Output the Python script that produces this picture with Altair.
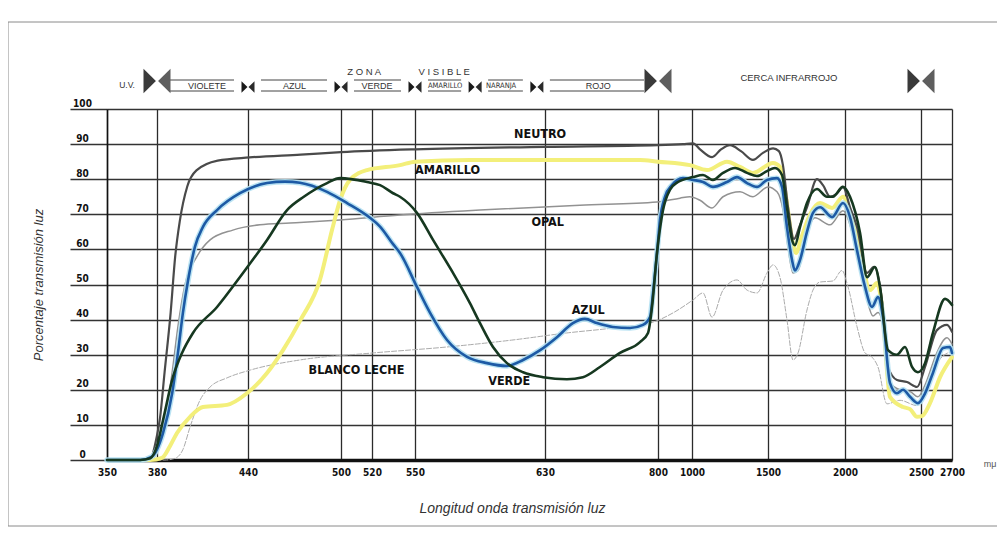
import altair as alt
import pandas as pd

# ---------------- axis ticks ----------------
TICKS = [350, 380, 440, 500, 520, 550, 630, 800, 1000, 1500, 2000, 2500, 2700]
Y_TICKS = [0, 10, 20, 30, 40, 50, 60, 70, 80, 90, 100]

# ---------------- series (wavelength nm, % transmission) ----------------
NEUTRO_NM = [350, 370, 376, 380, 382, 385, 389, 392, 395, 400, 406, 420, 441, 474, 500, 550, 630, 800, 947, 1007,
             1053, 1132, 1191, 1250, 1322, 1401, 1467, 1533, 1571, 1597, 1630, 1669, 1708, 1753, 1818, 1857, 1903,
             1948, 1987, 2033, 2079, 2145, 2191, 2243, 2283, 2342, 2408, 2474, 2526, 2603, 2668, 2700]
NEUTRO_VAL = [0, 0, 0.5, 7, 12, 25, 42, 58, 68, 78, 82.5, 85.3, 86.2, 87, 87.7, 88.5, 89.2, 89.7, 90, 90.2,
              88.5, 86.3, 88.5, 89.7, 88, 85.5, 87.5, 88.8, 88, 84, 72, 63, 67, 72, 80, 78.3, 75,
              76, 77.8, 72, 66.4, 53.3, 55, 45.6, 26.5, 22.8, 22.2, 20.8, 26.5, 37, 38.5, 36.5]

VERDE_NM = [350, 370, 376, 380, 384, 390.5, 396.5, 403.7, 419.6, 436.7, 452.3, 465.2, 476, 491, 499.4, 516.8, 525.6,
            534.7, 539.5, 551.2, 561.1, 573.4, 583.8, 590, 598, 606.6, 616.5, 628.8, 663, 687, 712.7, 742.8, 772.9,
            785, 791, 798.5, 829.4, 870.6, 917.6, 1006.6, 1072.4, 1138, 1204, 1283, 1362, 1427.6, 1493.4, 1545.5,
            1591, 1623, 1656, 1675, 1708, 1753, 1818, 1883, 1922, 1987, 2033, 2099, 2145, 2197, 2230, 2283, 2342,
            2395, 2441, 2480, 2526, 2577, 2655, 2700]
VERDE_VAL = [0, 0, 0.5, 4, 11.4, 23.6, 30.5, 36.2, 43.6, 53.3, 62.7, 71.2, 75, 78.9, 80.3, 79.2, 78.3,
             76, 75, 70.4, 62.7, 53.3, 44.7, 39, 32.2, 27.6, 25, 23.6, 23, 23.6, 26.5, 30.5, 33.6,
             36.2, 43.6, 59, 71.2, 77, 79.2, 80.6, 81.2, 79.8, 81.8, 83.2, 81.8, 80.9, 82.3, 83.2,
             81.2, 72, 62.7, 61.2, 66.4, 73.2, 77.2, 75, 75, 77.8, 75, 64.7, 52.1, 55, 49.3, 31.3, 30,
             32.2, 26.5, 25, 27.6, 36.2, 45.9, 44.2]

AZUL_NM = [350, 370, 377, 380, 384, 390, 393.8, 397.1, 400.4, 405, 410.3, 419.6, 434.7, 452.3, 463.9, 473.5, 491,
           503.9, 518.7, 525.6, 534.7, 539.5, 551.2, 559.2, 569.7, 582, 594.3, 606.6, 616.5, 627, 648, 672, 690,
           708, 732, 757.9, 777.4, 788, 792.5, 798.5, 811.8, 841, 882, 947, 1006.6, 1072.4, 1138, 1230, 1296,
           1362, 1427.6, 1493.4, 1558.4, 1591, 1623, 1656, 1675, 1708, 1753, 1792, 1838, 1916, 1987, 2033, 2079,
           2132, 2178, 2217, 2250, 2296, 2342, 2382, 2428, 2480, 2526, 2577, 2642, 2687, 2700]
AZUL_VAL = [0, 0, 1, 3, 7.7, 19, 30.5, 42, 51, 60.7, 66.4, 71.2, 76, 78.9, 79.3, 79, 76.4,
            73.2, 69, 66.5, 61.5, 59, 49.3, 42, 34.2, 29.4, 27.6, 26.8, 28.5, 31.3, 35, 39, 40.2,
            39, 37.9, 37.6, 38.5, 40.7, 47.6, 59, 68.4, 75, 78.3, 80.3, 79.8, 79.2, 77.8, 79.2, 80.6,
            78.9, 77.8, 79.8, 80.3, 77.8, 66.4, 57, 54, 57, 65, 70.4, 72, 69.2, 73.2, 69.2, 59.8,
            49.3, 43.6, 46.4, 40.7, 21.9, 19, 20, 18, 16.2, 19, 24.8, 31.9, 32.2, 30.5]

AMARILLO_NM = [350, 376, 383.3, 388.6, 393.2, 401.8, 410.3, 426.2, 439.3, 452.3, 462.6, 474, 486.4, 494.2, 499.4,
               505.8, 516.8, 539.5, 550, 583.8, 630, 772.9, 800, 988, 1098.7, 1230, 1316, 1401, 1532.5, 1578,
               1617, 1656, 1682, 1714, 1773, 1838, 1916, 1987, 2033, 2099, 2164.5, 2210.5, 2243, 2296, 2382,
               2428, 2474, 2506, 2558, 2623, 2700]
AMARILLO_VAL = [0, 0, 0.6, 4, 7.7, 12.3, 15.1, 15.7, 19, 24.8, 31.3, 40, 51.3, 65.5, 74,
                79.8, 82.6, 84, 85, 85.5, 85.5, 85.5, 85, 84, 82.6, 85, 83.5, 81.8, 84.6, 83.5,
                75, 63, 59, 63, 70, 73.2, 71.8, 75, 70, 60, 48.4, 50.4, 44, 18, 15.1,
                14.5, 12.3, 12.5, 16.2, 23.6, 29.3]

OPAL_NM = [350, 376, 380.7, 385.3, 390, 393.8, 398.5, 406.4, 415, 430, 447.7, 467.1, 499.4, 539.5, 590, 682.6,
           798.5, 929, 987, 1052.6, 1131.6, 1204, 1316, 1401, 1500, 1558.4, 1597.4, 1630, 1662.5, 1695, 1753,
           1805, 1902.6, 1987, 2033, 2084, 2138, 2184, 2217, 2256, 2296, 2362, 2428, 2480, 2532, 2597, 2668, 2700]
OPAL_VAL = [0, 0, 3, 12, 25, 38, 50, 58, 62.7, 65.5, 67, 67.5, 68.4, 69.8, 71.2, 72.6,
            73.5, 74.6, 75, 74, 71.8, 75, 76.4, 75, 77.8, 76.4, 71.2, 60.7, 53.3, 54, 64.7,
            69, 67, 71, 67, 57, 47, 41, 42, 37, 22, 20, 19.5, 18, 22, 30, 34.8, 33]

LECHE_NM = [350, 385.3, 392, 397.1, 401.8, 408.3, 415, 426.2, 441.3, 473.5, 520.7, 569.7, 610.3, 663, 732, 792.5,
            888, 1006.6, 1072.4, 1131.6, 1204, 1296, 1362, 1427.6, 1493.4, 1532.5, 1578, 1623, 1662.5, 1695, 1753,
            1792, 1838, 1922, 1980, 2020, 2079, 2132, 2178, 2217, 2276, 2362, 2474, 2532, 2610, 2700]
LECHE_VAL = [0, 0, 0.5, 3, 9.4, 17, 20.8, 23.4, 25.6, 28.5, 30.5, 32.2, 34.2, 36.2, 37.6, 39.3,
             41.9, 45.6, 47.6, 40.7, 48.4, 51.3, 48.4, 47.6, 53.3, 55.6, 52, 40, 28.5, 30.5, 42.7,
             48.4, 50.7, 51, 54, 49.3, 38, 30.5, 29.3, 26.5, 16, 17, 15.5, 20, 28, 31]

# curve labels
LABEL_TEXT = ["NEUTRO", "AMARILLO", "OPAL", "AZUL", "BLANCO LECHE", "VERDE"]
LABEL_NM = [627, 570, 634, 695, 510, 608]
LABEL_VAL = [92.9, 82.6, 67.8, 42.7, 25.6, 22.5]

# spectrum header
DIVIDER_NM = [380, 440, 500, 550, 587, 625, 800, 2500]
DIVIDER_BIG = [True, False, False, False, False, False, True, True]
BAND_NAME = ["U.V.", "VIOLETE", "AZUL", "VERDE", "AMARILLO", "NARANJA", "ROJO", "CERCA INFRARROJO"]
BAND_LABEL_NM = [362, 413, 470, 523.5, 568.5, 603, 710, 1636]
BAND_START = [350, 380, 440, 500, 550, 587, 625, 800]
BAND_END = [380, 440, 500, 550, 587, 625, 800, 2500]
BAND_BOXED = [False, True, True, True, True, True, True, False]
ZONA_TEXT = ["Z  O  N  A", "V  I  S  I  B  L  E"]
ZONA_NM = [515, 568]

# ---------------- layout / style ----------------
W, H = 845, 351
X_RANGE = [0, 50, 141, 234, 265, 308, 438, 551, 585, 661, 738, 814, 845]
NARROW = "Liberation Sans Narrow, DejaVu Sans Condensed, Liberation Sans, sans-serif"
SANS = "Liberation Sans, Arial, sans-serif"

xscale = alt.Scale(type="linear", domain=TICKS, range=X_RANGE, zero=False, nice=False)
yscale = alt.Scale(domain=[0, 100], zero=False, nice=False)

xaxis = alt.Axis(values=TICKS, format="d", grid=True, gridColor="#2b2b2b", gridWidth=1.3,
                 ticks=False, domain=True, domainColor="#111111", domainWidth=3.5,
                 labelFont=NARROW, labelFontSize=10, labelFontWeight="bold", labelColor="#111111",
                 labelPadding=7, labelFlush=False, labelOverlap=False,
                 title="Longitud onda transmisión luz", titleFont=SANS, titleFontSize=14,
                 titleFontStyle="italic", titleFontWeight="normal", titleColor="#333333",
                 titleX=405, titleY=48, titleAlign="center", titleBaseline="middle")
yaxis = alt.Axis(values=Y_TICKS, grid=True, gridColor="#333333", gridWidth=1.3,
                 ticks=True, tickSize=37, tickColor="#333333", tickWidth=1.3,
                 domain=True, domainColor="#111111", domainWidth=1.5,
                 labelFont=NARROW, labelFontSize=10, labelFontWeight="bold", labelColor="#111111",
                 labelAlign="center", labelBaseline="bottom", labelPadding=-12, labelOffset=-1,
                 labelFlush=False,
                 title="Porcentaje transmisión luz", titleFont=SANS, titleFontSize=13,
                 titleFontStyle="italic", titleFontWeight="normal", titleColor="#333333",
                 titleX=-69, titleY=H / 2, titleAngle=270, titleAlign="center", titleBaseline="middle")


def X(field="wl"):
    return alt.X(f"{field}:Q", scale=xscale, axis=xaxis)


def Y(field="val"):
    return alt.Y(f"{field}:Q", scale=yscale, axis=yaxis)


def line(nm, val, color, width, dash=None, opacity=1.0):
    df = pd.DataFrame({"wl": nm, "val": val})
    kw = dict(color=color, strokeWidth=width, interpolate="monotone", opacity=opacity,
              strokeCap="round", strokeJoin="round")
    if dash:
        kw["strokeDash"] = dash
    return alt.Chart(df).mark_line(**kw).encode(x=X(), y=Y())


layers = []

# outer frame of the figure
frame = alt.Chart(pd.DataFrame({"a": [0]})).mark_rect(filled=False, stroke="#8a8a8a", strokeWidth=1).encode(
    x=alt.value(-99), x2=alt.value(893), y=alt.value(-87), y2=alt.value(417))
layers.append(frame)

# curves
layers.append(line(LECHE_NM, LECHE_VAL, "#ababab", 1.0, dash=[5, 2]))
layers.append(line(OPAL_NM, OPAL_VAL, "#929292", 1.5))
layers.append(line(AMARILLO_NM, AMARILLO_VAL, "#f3ef7a", 4))
layers.append(line(NEUTRO_NM, NEUTRO_VAL, "#4a4a4a", 2.2))
layers.append(line(AZUL_NM, AZUL_VAL, "#b2e0f2", 5.5, opacity=0.9))
layers.append(line(AZUL_NM, AZUL_VAL, "#1d5aa5", 2.6))
layers.append(line(VERDE_NM, VERDE_VAL, "#163820", 2.6))

# curve labels
lab_df = pd.DataFrame({"wl": LABEL_NM, "val": LABEL_VAL, "t": LABEL_TEXT})
layers.append(alt.Chart(lab_df).mark_text(font=NARROW, fontSize=12.5, fontWeight="bold", color="#111111",
                                          align="center", baseline="middle").encode(x=X(), y=Y(), text="t:N"))

# unit
unit_df = pd.DataFrame({"wl": [TICKS[-1]], "val": [0], "t": ["mμ"]})
layers.append(alt.Chart(unit_df).mark_text(font=SANS, fontSize=9, color="#555555", dx=38, dy=4,
                                           align="center", baseline="middle").encode(x=X(), y=Y(), text="t:N"))

# header: band boxes (lines above/below)
band_df = pd.DataFrame({"start": BAND_START, "end": BAND_END, "boxed": BAND_BOXED})
boxed_df = band_df[band_df["boxed"]]
for yy in (-29, -18):
    layers.append(alt.Chart(boxed_df).mark_rule(color="#444444", strokeWidth=1, xOffset=13, x2Offset=-14).encode(
        x=X("start"), x2="end:Q", y=alt.value(yy)))

# header: band names
name_df = pd.DataFrame({"wl": BAND_LABEL_NM, "t": BAND_NAME, "boxed": BAND_BOXED})
small_names = name_df[name_df["t"].isin(["AMARILLO", "NARANJA"])]
norm_names = name_df[name_df["boxed"] & ~name_df["t"].isin(["AMARILLO", "NARANJA"])]
layers.append(alt.Chart(norm_names).mark_text(font=SANS, fontSize=9, color="#333333", align="center",
                                              baseline="middle").encode(x=X(), y=alt.value(-23), text="t:N"))
layers.append(alt.Chart(small_names).mark_text(font=NARROW, fontSize=7.5, color="#333333", align="center",
                                               baseline="middle").encode(x=X(), y=alt.value(-23), text="t:N"))
uv = name_df[name_df["t"] == "U.V."]
layers.append(alt.Chart(uv).mark_text(font=SANS, fontSize=8.5, color="#333333", align="center",
                                      baseline="middle").encode(x=X(), y=alt.value(-24), text="t:N"))
ir = name_df[name_df["t"] == "CERCA INFRARROJO"]
layers.append(alt.Chart(ir).mark_text(font=SANS, fontSize=9.5, color="#333333", align="center",
                                      baseline="middle").encode(x=X(), y=alt.value(-31), text="t:N"))

# header: ZONA VISIBLE
zona_df = pd.DataFrame({"wl": ZONA_NM, "t": ZONA_TEXT})
layers.append(alt.Chart(zona_df).mark_text(font=SANS, fontSize=9.5, color="#333333", align="center",
                                           baseline="middle").encode(x=X(), y=alt.value(-37), text="t:N"))

# header: bow-tie dividers
div_df = pd.DataFrame({"wl": DIVIDER_NM, "big": DIVIDER_BIG})
LEFT_TRI = "M-1,-0.9L-0.08,0L-1,0.9Z"
RIGHT_TRI = "M1,-0.9L0.08,0L1,0.9Z"
big = div_df[div_df["big"]]
small = div_df[~div_df["big"]]
layers.append(alt.Chart(big).mark_point(shape=LEFT_TRI, size=729, filled=True, color="#3a3a3a", opacity=1,
                                        strokeWidth=0).encode(x=X(), y=alt.value(-28)))
layers.append(alt.Chart(big).mark_point(shape=RIGHT_TRI, size=729, filled=True, color="#5e5e5e", opacity=1,
                                        strokeWidth=0).encode(x=X(), y=alt.value(-28)))
layers.append(alt.Chart(small).mark_point(shape=LEFT_TRI, size=169, filled=True, color="#1a1a1a", opacity=1,
                                          strokeWidth=0).encode(x=X(), y=alt.value(-22)))
layers.append(alt.Chart(small).mark_point(shape=RIGHT_TRI, size=169, filled=True, color="#2a2a2a", opacity=1,
                                          strokeWidth=0).encode(x=X(), y=alt.value(-22)))

chart = alt.layer(*layers).properties(
    width=W, height=H,
    autosize=alt.AutoSizeParams(type="none"),
    padding={"left": 99, "top": 101, "right": 45, "bottom": 75},
    background="white",
).configure_view(stroke=None)

chart.save("out.html", embed_options={"renderer": "svg", "actions": False})
